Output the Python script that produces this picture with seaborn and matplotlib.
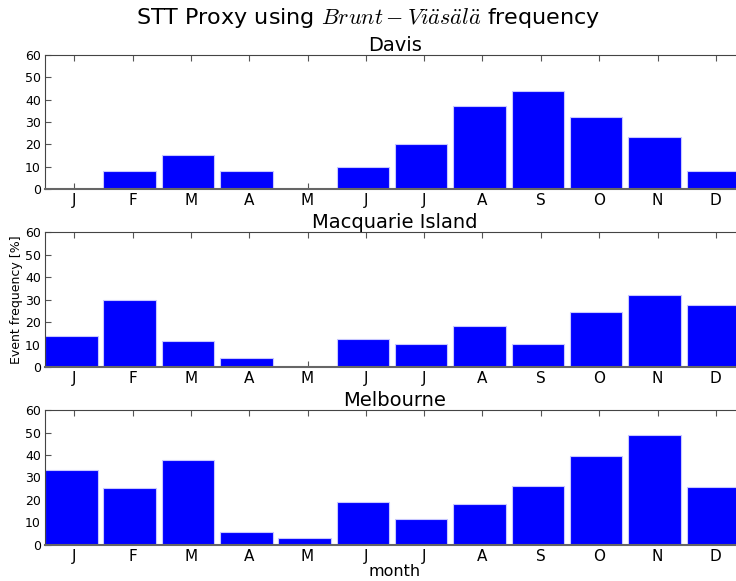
import numpy as np
import pandas as pd
import matplotlib
matplotlib.use("Agg")
import matplotlib.pyplot as plt
import seaborn as sns

months = ["J", "F", "M", "A", "M", "J", "J", "A", "S", "O", "N", "D"]
stations = ["Davis", "Macquarie Island", "Melbourne"]
davis = [0.0, 8.3, 15.5, 8.3, 0.0, 10.0, 20.0, 37.0, 44.0, 32.2, 23.5, 8.3]
macquarie = [14.0, 30.0, 11.4, 3.9, 0.0, 12.5, 10.2, 18.3, 10.2, 24.4, 32.2, 27.5]
melbourne = [33.3, 25.1, 37.9, 5.8, 2.8, 18.9, 11.4, 18.1, 26.3, 39.7, 48.8, 25.8]
series = [davis, macquarie, melbourne]
yticks = [0, 10, 20, 30, 40, 50, 60]

sns.set_style("ticks")
plt.rcParams["font.family"] = ["DejaVu Sans"]
plt.rcParams["mathtext.fontset"] = "cm"
plt.rcParams["text.color"] = "black"
plt.rcParams["axes.labelcolor"] = "black"
plt.rcParams["xtick.color"] = "black"
plt.rcParams["ytick.color"] = "black"

fig = plt.figure(figsize=(7.36, 5.81), dpi=100)
left = 45 / 736
width = 700 / 736
bottoms = [0.6742, 0.3683, 0.0625]
height = 0.2317

for i, (name, vals) in enumerate(zip(stations, series)):
    ax = fig.add_axes([left, bottoms[i], width, height])
    df = pd.DataFrame({"pos": np.arange(12), "val": vals})
    sns.barplot(data=df, x="pos", y="val", ax=ax, color="#0000ff",
                saturation=1, width=0.9, edgecolor="#c8c8ff", linewidth=0.8,
                native_scale=True)
    ax.set_xlim(-0.45, 11.55)
    ax.set_ylim(0, 60)
    ax.set_yticks(yticks)
    ax.set_yticklabels([str(t) for t in yticks], fontsize=9, color="black")
    ax.set_xticks(np.arange(12) + 0.05)
    ax.set_xticklabels(months, fontsize=11, color="black")
    ax.tick_params(axis="both", which="both", direction="in", top=True, right=True,
                   length=4, color="#555555")
    ax.tick_params(axis="x", pad=3)
    ax.tick_params(axis="y", pad=3)
    for s in ax.spines.values():
        s.set_color("#444444")
        s.set_linewidth(0.8)
    ax.spines["bottom"].set_linewidth(1.5)
    ax.spines["bottom"].set_color("#666666")
    ax.set_title(name, fontsize=14, pad=3, color="black")
    ax.set_xlabel("")
    ax.set_ylabel("")
    if i == 1:
        ax.set_ylabel("Event frequency [%]", fontsize=9, color="black")
        ax.yaxis.set_label_coords(-0.032, 0.5)
    if i == 2:
        ax.set_xlabel("month", fontsize=11.5, labelpad=0, color="black")

fig.suptitle(r"STT Proxy using $Brunt-Vi\ddot{a}s\ddot{a}l\ddot{a}$ frequency",
             fontsize=16, y=0.99, color="black")
fig.savefig("out.png", dpi=100)
